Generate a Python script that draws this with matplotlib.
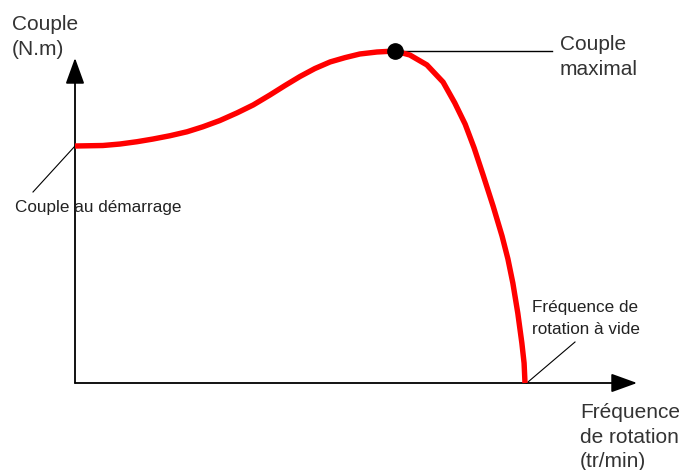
import matplotlib
matplotlib.use("Agg")
import matplotlib.pyplot as plt

plt.rcParams['font.family'] = ['Liberation Sans', 'DejaVu Sans']

# Data (arbitrary units: speed 100 = no-load speed, torque ~100 = max torque)
speed = [0, 6.2, 10.0, 13.8, 17.3, 21.1, 24.9, 28.4, 32.2, 36.0, 39.6, 43.3,
         46.7, 50.0, 53.3, 56.7, 60.0, 63.3, 67.1, 71.1, 74.4, 78.2, 81.8,
         84.4, 86.7, 88.7, 90.7, 92.9, 94.9, 96.2, 97.3, 98.4, 99.3, 99.8, 100.0]
torque = [71.6, 71.75, 72.2, 72.9, 73.7, 74.7, 75.9, 77.4, 79.3, 81.6, 84.0,
          87.0, 89.9, 92.6, 95.0, 97.0, 98.3, 99.4, 100.0, 100.3, 99.1, 96.1,
          90.9, 84.6, 78.2, 71.0, 62.8, 53.5, 44.4, 37.5, 30.2, 21.1, 12.1, 6.0, 0.0]
max_speed, max_torque = 71.1, 100.3
start_torque = 71.6
noload_speed = 100.0

W, H = 688, 470
fig = plt.figure(figsize=(W / 100, H / 100), dpi=100)
ax = fig.add_axes([0, 0, 1, 1])
ax.axis('off')
# pixel mapping: x0=75px, 4.5 px per unit; y0=383px, 3.31 px per unit
ax.set_xlim(-75 / 4.5, (W - 75) / 4.5)
ax.set_ylim(-(H - 383) / 3.31, 383 / 3.31)


def px(x, y):
    return (x / W, 1 - y / H)


# axes arrows
arrow_kw = dict(arrowstyle='-|>,head_length=0.8,head_width=0.29',
                mutation_scale=20, color='black', lw=1.3, shrinkA=0, shrinkB=0)
ax.annotate('', xy=(0, 98.2), xytext=(0, 0), arrowprops=arrow_kw)
ax.annotate('', xy=(124.9, 0), xytext=(0, 0), arrowprops=arrow_kw)

# curve
ax.plot(speed, torque, color='#ff0000', lw=3.9, solid_joinstyle='round',
        solid_capstyle='butt', zorder=3)
ax.plot([max_speed], [max_torque], 'o', color='black', ms=11, zorder=4)

# leader lines
ax.plot([max_speed, (552 - 75) / 4.5], [max_torque, max_torque], color='black', lw=1.0, zorder=2)
ax.plot([0, (33 - 75) / 4.5], [start_torque, (383 - 192) / 3.31], color='black', lw=0.8, zorder=2)
ax.plot([noload_speed + 0.4, (575 - 75) / 4.5], [0, (383 - 342) / 3.31], color='black', lw=0.8, zorder=2)

big = dict(fontsize=15, color='#333333', va='baseline', ha='left', transform=fig.transFigure)
small = dict(fontsize=12.3, color='#222222', va='baseline', ha='left', transform=fig.transFigure)

fig.text(*px(12, 30), 'Couple', **big)
fig.text(*px(12, 55), '(N.m)', **big)
fig.text(*px(560, 50), 'Couple', **big)
fig.text(*px(560, 75), 'maximal', **big)
fig.text(*px(580, 418), 'Fréquence', **big)
fig.text(*px(580, 443), 'de rotation', **big)
fig.text(*px(580, 467), '(tr/min)', **big)

fig.text(*px(15, 212), 'Couple au démarrage', **small)
fig.text(*px(532, 312), 'Fréquence de', **small)
fig.text(*px(532, 334), 'rotation à vide', **small)

fig.savefig('out.png', dpi=100, facecolor='white')
